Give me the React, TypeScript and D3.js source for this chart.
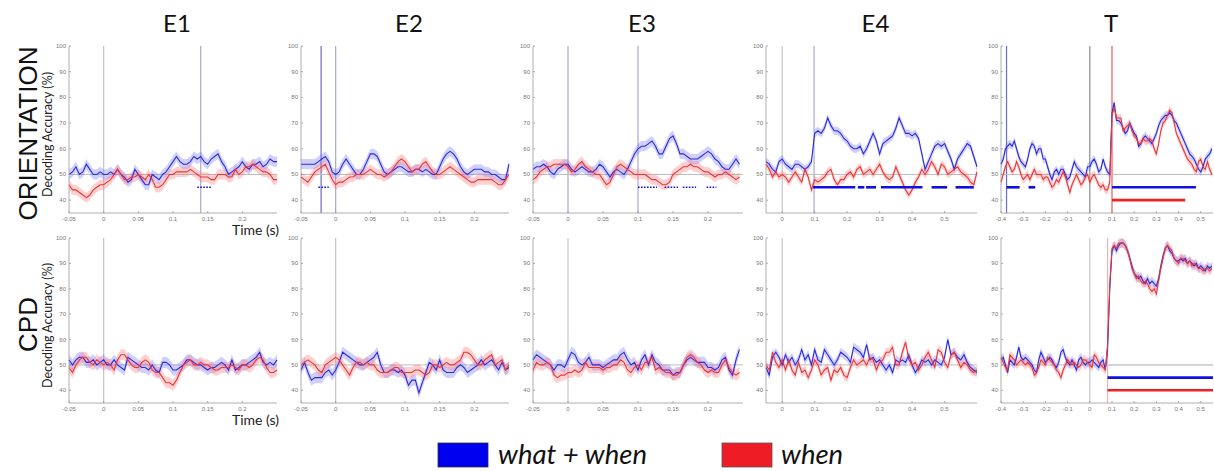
import * as d3 from "d3";

// ---- data ----
const columns = ["E1", "E2", "E3", "E4", "T"];
const rowLabels = ["ORIENTATION", "CPD"];
const yTicks = [40, 50, 60, 70, 80, 90, 100];
const shortTicks = [-0.05, 0, 0.05, 0.1, 0.15, 0.2];
const e4Ticks = [0, 0.1, 0.2, 0.3, 0.4, 0.5];
const tTicks = [-0.4, -0.3, -0.2, -0.1, 0, 0.1, 0.2, 0.3, 0.4, 0.5];

// orientation row, 5 ms steps from -0.05 s
const e1OriWhatWhen = [50, 51, 53, 50, 51, 54, 52, 50, 50, 51, 50, 50, 51, 50, 52, 50, 49, 47, 48, 52, 50, 48, 46, 46, 50, 49, 48, 50, 51, 53, 55, 57, 55, 54, 54, 55, 57, 56, 57, 55, 54, 56, 57, 58, 55, 53, 50, 51, 52, 53, 55, 53, 52, 54, 54, 55, 53, 54, 56, 55, 55];
const e1OriWhen = [46, 44, 44, 43, 42, 41, 42, 44, 45, 46, 46, 47, 48, 50, 52, 50, 48, 48, 49, 49, 50, 49, 48, 50, 48, 45, 45, 46, 48, 50, 50, 51, 51, 51, 51, 52, 51, 50, 49, 49, 49, 48, 48, 50, 50, 50, 49, 49, 52, 50, 51, 53, 53, 54, 53, 52, 51, 51, 50, 48, 48];
const e2OriWhatWhen = [54, 54, 54, 54, 54, 55, 56, 57, 55, 51, 50, 51, 54, 56, 54, 52, 50, 50, 52, 55, 58, 58, 57, 54, 51, 50, 51, 52, 53, 53, 52, 51, 51, 52, 52, 51, 52, 51, 50, 50, 53, 56, 58, 59, 58, 56, 53, 51, 50, 51, 52, 52, 52, 51, 51, 50, 50, 49, 48, 48, 54];
const e2OriWhen = [49, 48, 47, 49, 51, 52, 53, 54, 51, 48, 46, 47, 47, 48, 49, 49, 50, 50, 50, 51, 52, 51, 50, 50, 49, 50, 51, 53, 55, 56, 55, 53, 51, 52, 52, 54, 55, 53, 51, 50, 50, 51, 52, 53, 52, 51, 50, 49, 48, 47, 47, 48, 48, 48, 48, 48, 47, 46, 46, 48, 50];
const e3OriWhatWhen = [52, 53, 53, 54, 53, 51, 50, 52, 53, 54, 54, 52, 51, 52, 53, 52, 51, 51, 52, 54, 53, 51, 49, 51, 52, 51, 50, 52, 55, 58, 60, 61, 61, 62, 63, 61, 58, 58, 61, 64, 65, 62, 58, 58, 57, 56, 56, 56, 57, 58, 59, 58, 56, 55, 53, 52, 52, 54, 56, 54];
const e3OriWhen = [48, 49, 51, 52, 53, 53, 54, 54, 54, 54, 53, 51, 52, 54, 55, 53, 52, 51, 50, 50, 48, 46, 47, 50, 53, 54, 53, 52, 51, 50, 50, 50, 50, 49, 48, 48, 47, 46, 46, 47, 50, 51, 52, 53, 53, 54, 53, 53, 52, 51, 51, 50, 49, 50, 50, 51, 50, 49, 48, 49];
// 10 ms steps from -0.05 s
const e4OriWhatWhen = [55, 54, 52, 51, 55, 56, 54, 53, 52, 54, 54, 53, 52, 53, 55, 66, 67, 66, 68, 72, 69, 67, 67, 66, 64, 63, 61, 60, 60, 61, 58, 60, 63, 66, 63, 58, 62, 63, 64, 65, 68, 72, 69, 66, 66, 65, 66, 64, 58, 52, 55, 58, 61, 62, 61, 62, 59, 56, 52, 56, 58, 60, 62, 61, 57, 53];
const e4OriWhen = [54, 52, 49, 51, 49, 50, 49, 47, 49, 51, 49, 47, 52, 49, 44, 48, 47, 48, 49, 51, 52, 48, 46, 48, 48, 50, 51, 49, 52, 53, 50, 51, 52, 50, 52, 54, 51, 49, 48, 49, 53, 50, 47, 44, 42, 44, 47, 49, 52, 50, 52, 55, 53, 50, 54, 53, 50, 51, 52, 53, 51, 50, 49, 47, 46, 51];
// 10 ms steps from -0.4 s
const tOriWhatWhen = [54, 56, 60, 61, 62, 61, 63, 60, 57, 55, 54, 53, 56, 60, 62, 61, 58, 60, 60, 56, 56, 53, 50, 48, 51, 52, 50, 52, 52, 50, 48, 49, 52, 55, 53, 52, 51, 50, 49, 53, 53, 55, 56, 54, 51, 52, 56, 53, 51, 50, 74, 78, 71, 71, 70, 68, 66, 67, 70, 68, 66, 65, 61, 62, 64, 65, 64, 63, 62, 64, 66, 69, 71, 72, 73, 73, 74, 73, 71, 70, 68, 66, 64, 62, 60, 58, 57, 56, 54, 52, 51, 53, 56, 57, 58, 60];
const tOriWhen = [47, 50, 53, 55, 53, 51, 52, 55, 53, 50, 48, 49, 50, 48, 50, 52, 50, 50, 50, 48, 49, 49, 47, 45, 46, 48, 47, 49, 51, 49, 46, 43, 46, 48, 50, 48, 46, 47, 49, 50, 47, 49, 50, 48, 46, 45, 46, 44, 44, 47, 73, 76, 72, 72, 72, 67, 68, 69, 70, 67, 65, 64, 62, 62, 64, 63, 63, 64, 63, 60, 58, 62, 67, 70, 71, 73, 75, 74, 70, 66, 64, 62, 60, 58, 56, 55, 54, 52, 51, 55, 56, 53, 52, 55, 52, 50];

// CPD row
const e1CpdWhatWhen = [52, 50, 52, 53, 53, 51, 51, 52, 50, 51, 52, 50, 50, 52, 50, 49, 48, 53, 52, 51, 50, 49, 49, 48, 50, 48, 47, 51, 51, 50, 48, 48, 49, 50, 52, 52, 51, 50, 50, 49, 48, 49, 49, 50, 51, 50, 48, 52, 48, 49, 50, 50, 51, 52, 53, 55, 51, 50, 51, 50, 52];
const e1CpdWhen = [49, 47, 50, 52, 53, 53, 51, 50, 52, 51, 50, 51, 50, 48, 52, 54, 54, 52, 50, 49, 49, 51, 52, 51, 48, 47, 47, 45, 43, 43, 42, 44, 47, 50, 51, 52, 50, 50, 51, 50, 50, 49, 48, 48, 49, 49, 49, 50, 49, 48, 50, 50, 49, 50, 52, 53, 52, 49, 47, 47, 48];
const e2CpdWhatWhen = [48, 51, 47, 44, 45, 45, 45, 47, 48, 46, 48, 51, 55, 54, 53, 52, 51, 50, 50, 51, 52, 53, 55, 50, 47, 47, 48, 48, 47, 48, 46, 42, 44, 44, 39, 43, 47, 51, 50, 48, 52, 48, 47, 47, 47, 49, 50, 49, 47, 48, 49, 50, 52, 50, 51, 52, 50, 48, 51, 48, 49];
const e2CpdWhen = [50, 51, 52, 51, 50, 48, 47, 50, 51, 52, 53, 52, 50, 48, 46, 49, 51, 51, 50, 51, 50, 50, 48, 47, 47, 47, 48, 49, 49, 47, 47, 47, 47, 48, 48, 47, 46, 47, 50, 50, 49, 50, 51, 50, 50, 51, 52, 55, 55, 54, 52, 50, 50, 52, 53, 54, 50, 51, 52, 48, 50];
const e3CpdWhatWhen = [52, 54, 53, 52, 51, 50, 48, 50, 50, 49, 52, 55, 54, 51, 50, 51, 53, 50, 50, 50, 49, 50, 51, 52, 52, 54, 55, 52, 50, 51, 48, 52, 54, 50, 54, 51, 50, 48, 48, 48, 46, 47, 47, 50, 52, 53, 52, 51, 51, 51, 49, 49, 48, 49, 52, 53, 48, 46, 52, 56];
const e3CpdWhen = [48, 51, 50, 50, 51, 50, 46, 45, 46, 46, 47, 47, 48, 47, 48, 51, 49, 49, 49, 49, 48, 49, 49, 50, 50, 52, 51, 48, 47, 49, 50, 48, 51, 51, 53, 48, 49, 48, 47, 47, 46, 46, 47, 50, 53, 54, 53, 51, 50, 48, 47, 48, 47, 47, 50, 52, 49, 47, 46, 47];
const e4CpdWhatWhen = [49, 46, 53, 55, 53, 50, 54, 51, 53, 50, 52, 56, 52, 54, 50, 56, 52, 51, 56, 54, 52, 50, 52, 55, 54, 53, 51, 57, 56, 55, 53, 58, 52, 53, 51, 52, 50, 48, 50, 47, 52, 51, 52, 51, 54, 50, 47, 49, 52, 51, 52, 50, 52, 51, 50, 53, 60, 54, 55, 53, 52, 54, 51, 49, 48, 47];
const e4CpdWhen = [50, 48, 55, 51, 49, 52, 48, 52, 48, 46, 51, 47, 48, 45, 48, 52, 50, 46, 48, 49, 44, 48, 47, 49, 46, 45, 49, 52, 50, 51, 52, 50, 53, 52, 48, 51, 52, 55, 55, 57, 50, 50, 55, 59, 52, 50, 51, 48, 50, 53, 55, 52, 49, 56, 55, 51, 49, 54, 55, 52, 49, 51, 50, 48, 47, 48];
const tCpdWhatWhen = [52, 53, 50, 47, 52, 51, 50, 53, 57, 53, 52, 53, 52, 51, 50, 48, 47, 52, 55, 53, 51, 52, 53, 52, 50, 49, 51, 55, 56, 53, 51, 50, 52, 50, 48, 52, 53, 51, 50, 51, 51, 52, 51, 50, 49, 51, 52, 48, 56, 80, 95, 97, 95, 97, 98, 98, 97, 95, 92, 89, 86, 85, 84, 85, 83, 82, 84, 82, 83, 82, 81, 84, 89, 93, 96, 97, 95, 94, 92, 91, 91, 92, 91, 92, 90, 91, 90, 89, 90, 88, 89, 88, 87, 89, 88, 89];
const tCpdWhen = [53, 51, 49, 48, 54, 53, 52, 50, 51, 52, 51, 50, 51, 50, 49, 46, 47, 49, 52, 51, 50, 53, 52, 51, 50, 48, 47, 45, 48, 50, 52, 51, 50, 51, 50, 49, 50, 52, 52, 51, 50, 49, 54, 53, 51, 50, 49, 48, 58, 82, 96, 97, 96, 98, 98, 98, 97, 95, 92, 88, 86, 84, 85, 83, 82, 83, 82, 80, 79, 80, 78, 83, 88, 92, 96, 97, 96, 95, 92, 91, 90, 92, 92, 91, 90, 91, 89, 90, 89, 88, 88, 87, 88, 88, 87, 88];

// significant time windows (s)
const e1OriSigWW = [[0.135, 0.155]];
const e2OriSigWW = [[-0.025, -0.01]];
const e3OriSigWW = [[0.1, 0.127], [0.138, 0.157], [0.164, 0.183], [0.198, 0.212]];
const e4OriSigWW = [[0.095, 0.225], [0.233, 0.253], [0.258, 0.289], [0.304, 0.432], [0.46, 0.508], [0.534, 0.59]];
const tOriSigWW = [[-0.375, -0.316], [-0.276, -0.246], [0.1, 0.478]];
const tOriSigW = [[0.1, 0.43]];
const tCpdSigWW = [[0.08, 0.555]];
const tCpdSigW = [[0.08, 0.555]];
const tCpdSigBoth = [[0.08, 0.555]];

// event markers (s)
const e1OriEvents = [0, 0.14];
const e2OriEvents = [-0.021, 0];
const e3OriEvents = [0, 0.1];
const e4OriEvents = [0, 0.098];
const tOriEvents = [-0.375, 0, 0.1];
const tCpdEvents = [0, 0.08];

// ---- layout & style ----
const W = 1214;
const H = 471;
const lefts = [69, 301, 533, 766, 1001];
const widths = [208, 208, 210, 211, 212];
const rowTop = [46, 238];
const rowBottom = [213, 403];
const BLUE = "#2b2bd6";
const RED = "#e8363a";
const BLUE_BAND = "rgba(110,110,255,0.32)";
const RED_BAND = "rgba(255,110,110,0.32)";
const markerColors: Record<string, string> = {
  gray: "#c4c4cc",
  grayblue: "#a8a8d4",
  blue: "#6a6ad0",
  dark: "#8a8a8a",
  red: "#e85a5a",
  pink: "#f2b0b0"
};

type Panel = {
  col: number;
  row: number;
  domain: [number, number];
  ticks: number[];
  start: number;
  step: number;
  ww: number[];
  w: number[];
  sem: number;
  events: number[];
  eventColors: string[];
  sigWW: number[][];
  sigW: number[][];
  sigBoth: number[][];
  dotted: boolean;
};

const short: [number, number] = [-0.05, 0.25];

const panels: Panel[] = [
  { col: 0, row: 0, domain: short, ticks: shortTicks, start: -0.05, step: 0.005, ww: e1OriWhatWhen, w: e1OriWhen, sem: 2, events: e1OriEvents, eventColors: ["gray", "grayblue"], sigWW: e1OriSigWW, sigW: [], sigBoth: [], dotted: true },
  { col: 1, row: 0, domain: short, ticks: shortTicks, start: -0.05, step: 0.005, ww: e2OriWhatWhen, w: e2OriWhen, sem: 2, events: e2OriEvents, eventColors: ["blue", "grayblue"], sigWW: e2OriSigWW, sigW: [], sigBoth: [], dotted: true },
  { col: 2, row: 0, domain: short, ticks: shortTicks, start: -0.05, step: 0.005, ww: e3OriWhatWhen, w: e3OriWhen, sem: 2, events: e3OriEvents, eventColors: ["grayblue", "grayblue"], sigWW: e3OriSigWW, sigW: [], sigBoth: [], dotted: true },
  { col: 3, row: 0, domain: [-0.05, 0.6], ticks: e4Ticks, start: -0.05, step: 0.01, ww: e4OriWhatWhen, w: e4OriWhen, sem: 1.6, events: e4OriEvents, eventColors: ["gray", "grayblue"], sigWW: e4OriSigWW, sigW: [], sigBoth: [], dotted: false },
  { col: 4, row: 0, domain: [-0.4, 0.555], ticks: tTicks, start: -0.4, step: 0.01, ww: tOriWhatWhen, w: tOriWhen, sem: 1.6, events: tOriEvents, eventColors: ["blue", "dark", "red"], sigWW: tOriSigWW, sigW: tOriSigW, sigBoth: [], dotted: false },
  { col: 0, row: 1, domain: short, ticks: shortTicks, start: -0.05, step: 0.005, ww: e1CpdWhatWhen, w: e1CpdWhen, sem: 2.2, events: [0], eventColors: ["gray"], sigWW: [], sigW: [], sigBoth: [], dotted: true },
  { col: 1, row: 1, domain: short, ticks: shortTicks, start: -0.05, step: 0.005, ww: e2CpdWhatWhen, w: e2CpdWhen, sem: 2.2, events: [0], eventColors: ["gray"], sigWW: [], sigW: [], sigBoth: [], dotted: true },
  { col: 2, row: 1, domain: short, ticks: shortTicks, start: -0.05, step: 0.005, ww: e3CpdWhatWhen, w: e3CpdWhen, sem: 2.2, events: [0], eventColors: ["gray"], sigWW: [], sigW: [], sigBoth: [], dotted: true },
  { col: 3, row: 1, domain: [-0.05, 0.6], ticks: e4Ticks, start: -0.05, step: 0.01, ww: e4CpdWhatWhen, w: e4CpdWhen, sem: 1.8, events: [0], eventColors: ["gray"], sigWW: [], sigW: [], sigBoth: [], dotted: false },
  { col: 4, row: 1, domain: [-0.4, 0.555], ticks: tTicks, start: -0.4, step: 0.01, ww: tCpdWhatWhen, w: tCpdWhen, sem: 1.8, events: tCpdEvents, eventColors: ["gray", "pink"], sigWW: tCpdSigWW, sigW: tCpdSigW, sigBoth: tCpdSigBoth, dotted: false }
];

function fmt(v: number) {
  return String(+v.toFixed(2));
}

function PanelView({ p }: { p: Panel }) {
  const left = lefts[p.col];
  const right = left + widths[p.col];
  const top = rowTop[p.row];
  const bottom = rowBottom[p.row];
  const x = d3.scaleLinear().domain(p.domain).range([left, right]);
  const y = d3.scaleLinear().domain([35, 100]).range([bottom, top]);
  const tx = (i: number) => x(p.start + i * p.step);
  const band = d3
    .area<number>()
    .x((_, i) => tx(i))
    .y0((d) => y(d - p.sem))
    .y1((d) => y(d + p.sem));
  const line = d3
    .line<number>()
    .x((_, i) => tx(i))
    .y((d) => y(d));

  const sigLine = (seg: number[], level: number, color: string, width: number, key: string) => (
    <line
      key={key}
      x1={x(seg[0])}
      x2={x(seg[1])}
      y1={y(level)}
      y2={y(level)}
      stroke={color}
      strokeWidth={p.dotted ? 1.6 : width}
      strokeDasharray={p.dotted ? "1.6,1.4" : undefined}
    />
  );

  return (
    <g>
      {p.events.map((e, i) => (
        <line key={"ev" + i} x1={x(e)} x2={x(e)} y1={top} y2={bottom} stroke={markerColors[p.eventColors[i]]} strokeWidth={1.2} />
      ))}
      <line x1={left} x2={right} y1={y(50)} y2={y(50)} stroke="#bdbdbd" strokeWidth={1} />
      <path d={band(p.ww) ?? ""} fill={BLUE_BAND} />
      <path d={band(p.w) ?? ""} fill={RED_BAND} />
      <path d={line(p.ww) ?? ""} fill="none" stroke={BLUE} strokeWidth={1.1} />
      <path d={line(p.w) ?? ""} fill="none" stroke={RED} strokeWidth={1.1} />
      {p.sigBoth.map((s, i) => sigLine(s, 50, "#d2d2d2", 1.6, "sb" + i))}
      {p.sigWW.map((s, i) => sigLine(s, 45, "#1010e0", 2.6, "sww" + i))}
      {p.sigW.map((s, i) => sigLine(s, 40, "#ee2020", 2.6, "sw" + i))}
      {/* axes */}
      <line x1={left} x2={left} y1={top} y2={bottom} stroke="#9a9a9a" strokeWidth={0.8} />
      <line x1={left} x2={right} y1={bottom} y2={bottom} stroke="#9a9a9a" strokeWidth={0.8} />
      {yTicks.map((t) => (
        <g key={"y" + t}>
          <line x1={left} x2={left + 2} y1={y(t)} y2={y(t)} stroke="#9a9a9a" strokeWidth={0.8} />
          <text x={left - 3} y={y(t) + 2} textAnchor="end" fontSize={6} fill="#777">
            {t}
          </text>
        </g>
      ))}
      {p.ticks.map((t) => (
        <g key={"x" + t}>
          <line x1={x(t)} x2={x(t)} y1={bottom} y2={bottom - 2} stroke="#9a9a9a" strokeWidth={0.8} />
          <text x={x(t)} y={bottom + 8} textAnchor="middle" fontSize={6} fill="#777">
            {fmt(t)}
          </text>
        </g>
      ))}
    </g>
  );
}

export default function App() {
  const font = "Lato, 'Liberation Sans', sans-serif";
  return (
    <svg
      width={W}
      height={H}
      viewBox={`0 0 ${W} ${H}`}
      style={{ position: "absolute", left: 0, top: 0, background: "#fff" }}
      fontFamily="'Liberation Sans', Arial, sans-serif"
    >
      {columns.map((c, i) => (
        <text key={c} x={lefts[i] + widths[i] / 2 + 4} y={32} textAnchor="middle" fontSize={24} fontFamily={font} fill="#111">
          {c}
        </text>
      ))}
      {rowLabels.map((r, i) => (
        <text
          key={r}
          transform={`translate(37, ${(rowTop[i] + rowBottom[i]) / 2 + 4}) rotate(-90)`}
          textAnchor="middle"
          fontSize={26}
          fill="#111"
        >
          {r}
        </text>
      ))}
      {rowLabels.map((r, i) => (
        <text
          key={r + "y"}
          transform={`translate(52, ${(rowTop[i] + rowBottom[i]) / 2 + 5}) rotate(-90)`}
          textAnchor="middle"
          fontSize={12.5}
          fontFamily={font}
          fill="#222"
        >
          Decoding Accuracy (%)
        </text>
      ))}
      {rowBottom.map((b, i) => (
        <text key={"time" + i} x={lefts[0] + widths[0] + 2} y={b + 22} textAnchor="end" fontSize={14} fontFamily={font} fill="#222">
          Time (s)
        </text>
      ))}
      {panels.map((p, i) => (
        <PanelView key={i} p={p} />
      ))}
      {/* legend */}
      <rect x={438} y={443} width={50} height={24} fill="#0000f0" stroke="#333" strokeWidth={0.8} />
      <text x={498} y={464} fontSize={27.5} fontStyle="italic" fontFamily={font} fill="#111">
        what + when
      </text>
      <rect x={722} y={443} width={50} height={24} fill="#ee1c24" stroke="#555" strokeWidth={0.8} />
      <text x={781} y={464} fontSize={27.5} fontStyle="italic" fontFamily={font} fill="#111">
        when
      </text>
    </svg>
  );
}
